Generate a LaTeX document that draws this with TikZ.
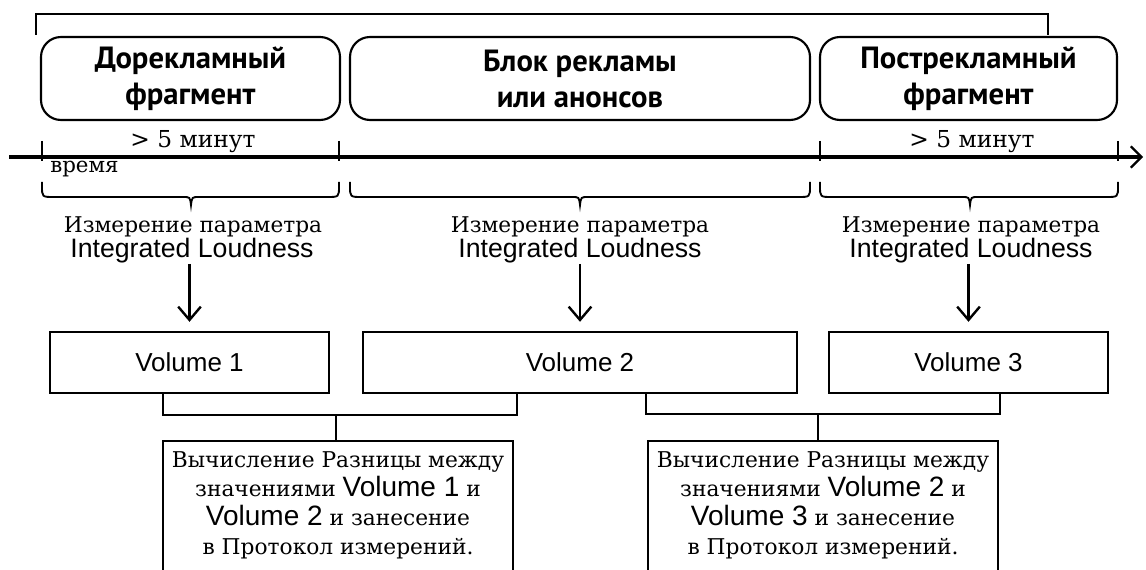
\documentclass[tikz,border=0pt]{standalone}
\usepackage{fontspec}
\setmainfont{DejaVu Serif}
\setsansfont{Liberation Sans}
\newfontfamily\phasefont{PT Sans}
\usetikzlibrary{arrows.meta}
\newcommand\bracepath[3]{%
  \draw[bracestyle] (#1,182) -- (#1,186) .. controls (#1,197) .. (#1+12,197) -- (#3-8,197)
    .. controls (#3-1,197) .. (#3,205) .. controls (#3+1,197) .. (#3+8,197) -- (#2-12,197)
    .. controls (#2,197) .. (#2,186) -- (#2,182);}
\begin{document}
\begin{tikzpicture}[x=0.75pt,y=-0.75pt,
  phase/.style={draw, line width=1.6pt, rounded corners=15pt, minimum height=62.25pt, inner sep=0pt,
    align=center, font=\phasefont\bfseries\fontsize{23}{27}\selectfont},
  volbox/.style={draw, line width=1.3pt, minimum height=45.75pt, inner sep=0pt,
    font=\sffamily\fontsize{19.5}{22}\selectfont},
  serifl/.style={font=\fontsize{16.25}{18}\selectfont, inner sep=0pt, anchor=base},
  durl/.style={font=\fontsize{17.5}{18}\selectfont, inner sep=0pt, anchor=base},
  sansl/.style={font=\sffamily\fontsize{20}{22}\selectfont, inner sep=0pt, anchor=base},
  diffbox/.style={inner sep=0pt, minimum height=96.75pt, minimum width=262.5pt, align=center,
    font=\fontsize{16.3}{21.75}\selectfont},
  volin/.style={font=\sffamily\fontsize{21}{21.75}\selectfont},
  opened/.style={line width=1.1pt},
  bracestyle/.style={line width=1.4pt},
  axis/.style={line width=2.5pt, -{Straight Barb[length=8pt,width=16pt,line width=1.6pt]}},
  tick/.style={line width=2.2pt},
  measarrow/.style={line width=2pt, -{Straight Barb[length=10pt,width=17pt,line width=1.8pt]}},
  joint/.style={line width=1.2pt},
  stem/.style={line width=2pt}]
\useasboundingbox (0,0) rectangle (1146,570);

% top bracket
\draw[opened] (36,35) -- (36,14) -- (1048,14) -- (1048,35);

% phase boxes
\node[phase, minimum width=224.25pt] (p1) at (190.5,78.5) {Дорекламный\\фрагмент};
\node[phase, minimum width=345pt] (p2) at (580,78.5) {Блок рекламы\\или анонсов};
\node[phase, minimum width=222.75pt] (p3) at (968.5,78.5) {Пострекламный\\фрагмент};

% duration labels
\node[durl] (d1lab) at (193,148) {> 5 минут};
\node[durl] (d3lab) at (972,148) {> 5 минут};

% time axis
\coordinate (t0) at (9,157);
\coordinate (t1) at (1143,157);
\draw[axis] (t0) -- (t1);
\foreach \x in {42,339,820,1118} \draw[tick] (\x,141) -- (\x,161);
\node[font=\fontsize{16}{18}\selectfont, inner sep=0pt, anchor=base west] (tl) at (50,173) {время};

% braces
\bracepath{42}{339}{191}
\bracepath{350}{810}{580}
\bracepath{820}{1118}{970}

% measurement labels
\node[serifl] (m1a) at (193,233) {Измерение параметра};
\node[sansl] (m1b) at (192,258) {Integrated Loudness};
\node[serifl] (m2a) at (580,233) {Измерение параметра};
\node[sansl] (m2b) at (580,258) {Integrated Loudness};
\node[serifl] (m3a) at (971,233) {Измерение параметра};
\node[sansl] (m3b) at (971,258) {Integrated Loudness};

% volume boxes
\node[volbox, minimum width=209.25pt] (v1) at (189.5,362.5) {Volume 1};
\node[volbox, minimum width=325.5pt] (v2) at (580,362.5) {Volume 2};
\node[volbox, minimum width=209.25pt] (v3) at (968.5,362.5) {Volume 3};

\draw[measarrow, shorten >=7pt] (v1.north |- m1b.south) -- (v1.north);
\draw[measarrow, shorten >=7pt] (v2.north |- m2b.south) -- (v2.north);
\draw[measarrow, shorten >=7pt] (v3.north |- m3b.south) -- (v3.north);

% difference boxes
\node[diffbox] (c1) at (338,505.5) {Вычисление Разницы между\\значениями {\sffamily\fontsize{21}{21.75}\selectfont Volume 1} и\\{\sffamily\fontsize{21}{21.75}\selectfont Volume 2} и занесение\\в Протокол измерений.};
\node[diffbox] (c2) at (823,505.5) {Вычисление Разницы между\\значениями {\sffamily\fontsize{21}{21.75}\selectfont Volume 2} и\\{\sffamily\fontsize{21}{21.75}\selectfont Volume 3} и занесение\\в Протокол измерений.};
\draw[joint] (c1.south west) -- (c1.north west) -- (c1.north east) -- (c1.south east);
\draw[joint] (c2.south west) -- (c2.north west) -- (c2.north east) -- (c2.south east);

% joints
\coordinate (j1l) at (163,415);
\coordinate (j1r) at (517,415);
\coordinate (j1m) at (336,415);
\coordinate (j2l) at (646,414);
\coordinate (j2r) at (1000,414);
\coordinate (j2m) at (818,414);
\draw[joint] (v1.south -| j1l) -- (j1l) -- (j1r) -- (v2.south -| j1r);
\draw[joint] (v2.south -| j2l) -- (j2l) -- (j2r) -- (v3.south -| j2r);
\draw[stem] (j1m) -- (c1.north -| j1m);
\draw[stem] (j2m) -- (c2.north -| j2m);
\end{tikzpicture}
\end{document}
